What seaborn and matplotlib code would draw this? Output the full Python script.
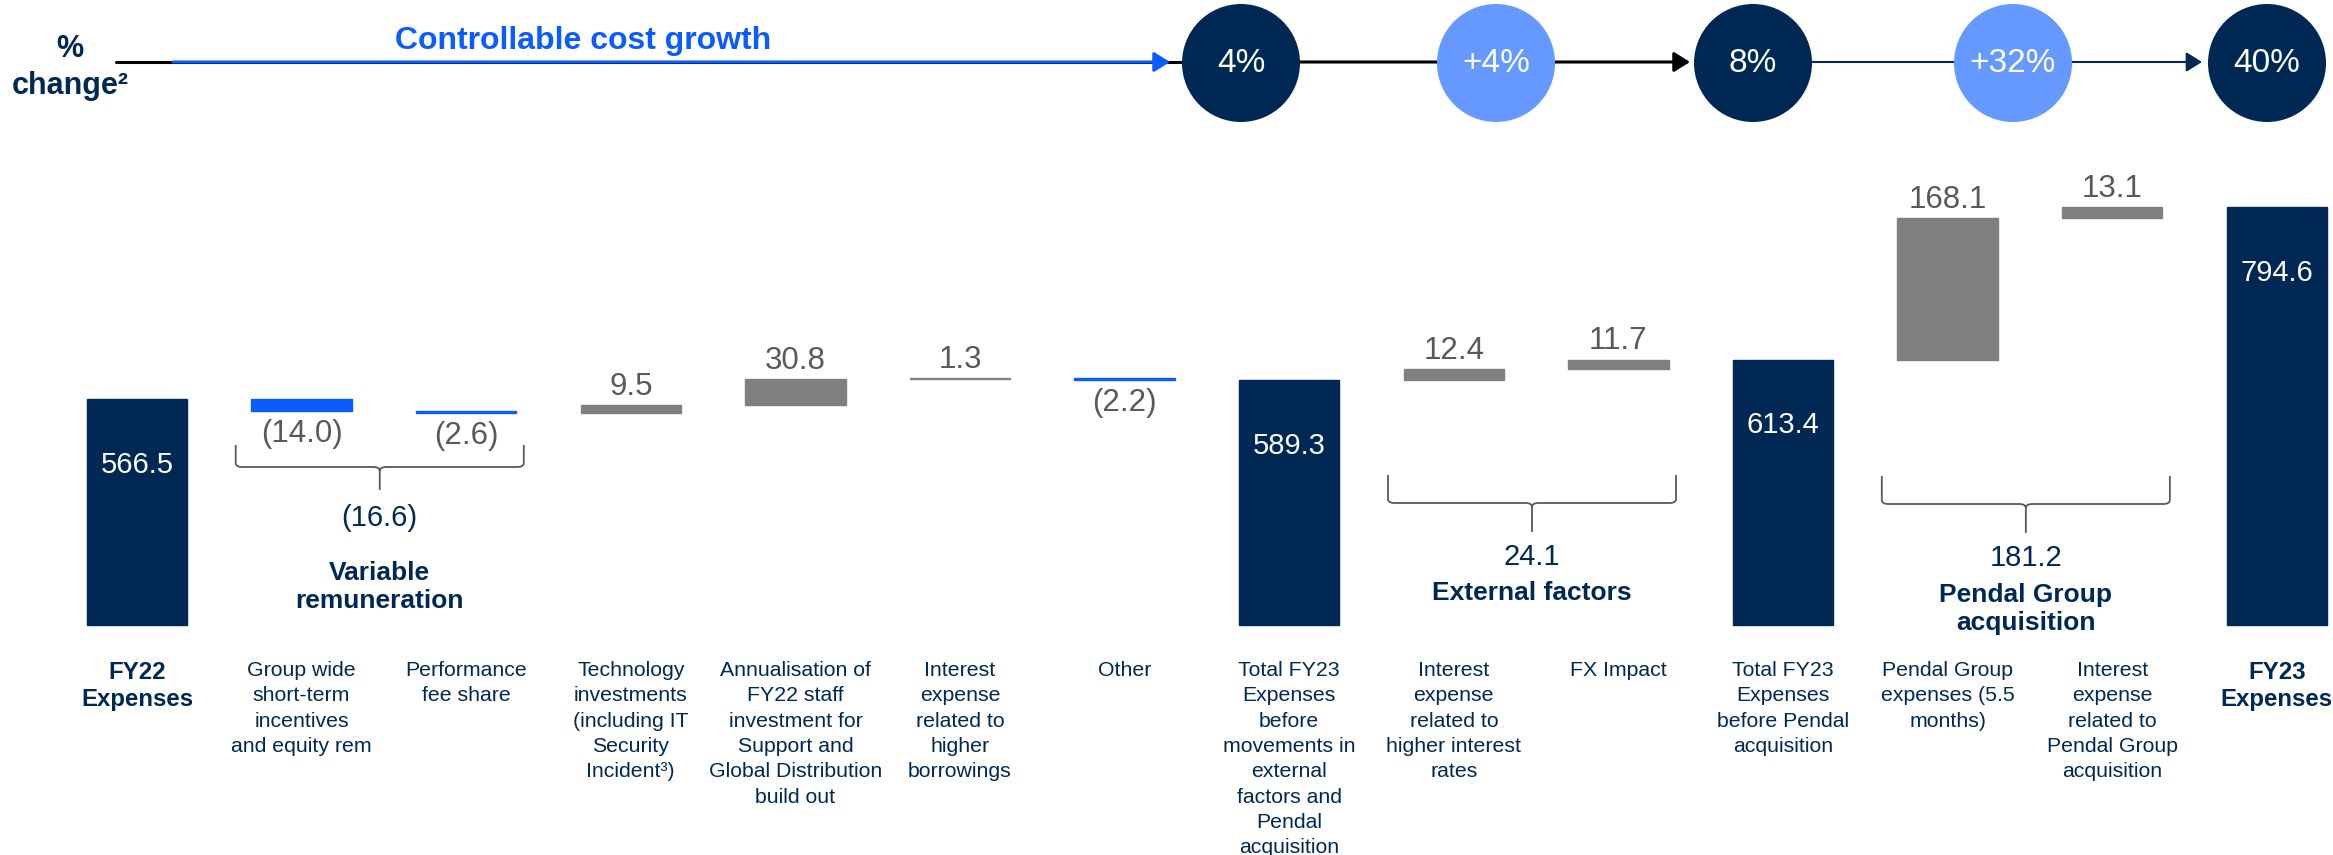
import pandas as pd
import seaborn as sns
import matplotlib.pyplot as plt
import matplotlib.transforms as mtransforms
from matplotlib.patches import Circle
from matplotlib.path import Path
from matplotlib.patches import PathPatch

# data (A$m)
steps = ['fy22', 'stip', 'perf', 'tech', 'annual', 'int_borrow', 'other',
         'total_pre_ext', 'int_rates', 'fx', 'total_pre_pendal',
         'pendal', 'int_pendal', 'fy23']
labels = ['FY22\nExpenses',
          'Group wide\nshort-term\nincentives\nand equity rem',
          'Performance\nfee share',
          'Technology\ninvestments\n(including IT\nSecurity\nIncident\u00b3)',
          'Annualisation of\nFY22 staff\ninvestment for\nSupport and\nGlobal Distribution\nbuild out',
          'Interest\nexpense\nrelated to\nhigher\nborrowings',
          'Other',
          'Total FY23\nExpenses\nbefore\nmovements in\nexternal\nfactors and\nPendal\nacquisition',
          'Interest\nexpense\nrelated to\nhigher interest\nrates',
          'FX Impact',
          'Total FY23\nExpenses\nbefore Pendal\nacquisition',
          'Pendal Group\nexpenses (5.5\nmonths)',
          'Interest\nexpense\nrelated to\nPendal Group\nacquisition',
          'FY23\nExpenses']
values = [566.5, -14.0, -2.6, 9.5, 30.8, 1.3, -2.2, 589.3, 12.4, 11.7,
          613.4, 168.1, 13.1, 794.6]
is_total = [True, False, False, False, False, False, False, True, False,
            False, True, False, False, True]
bold_label = ['fy22', 'fy23']

groups = [('Variable\nremuneration', 1, 2),
          ('External factors', 8, 9),
          ('Pendal Group\nacquisition', 11, 12)]

pct_labels = ['4%', '+4%', '8%', '+32%', '40%']
pct_is_step = [False, True, False, True, False]

NAVY = '#002855'
BLUE = '#0A5CFF'
LBLUE = '#6699FF'
GREY = '#808080'
TXTGREY = '#595959'

sns.set_theme(style='white')
plt.rcParams['font.family'] = ['Liberation Sans', 'DejaVu Sans']

# waterfall geometry
BASE = 298.0
heights, bottoms, colors = [], [], []
run = 0.0
for v, t in zip(values, is_total):
    if t:
        heights.append(v - BASE)
        bottoms.append(BASE)
        colors.append(NAVY)
        run = v
    else:
        heights.append(v)
        bottoms.append(run)
        colors.append(GREY if v > 0 else BLUE)
        run += v
df = pd.DataFrame({'step': steps, 'height': heights, 'bottom': bottoms})

fig = plt.figure(figsize=(23.33, 8.55), dpi=100)
ax = fig.add_axes([0, 0, 1, 1])
sns.barplot(data=df, x='step', y='height', order=steps, bottom=df['bottom'].values,
            color=NAVY, width=0.61, errorbar=None, ax=ax, linewidth=1)
for p, c in zip(ax.patches, colors):
    p.set_facecolor(c)
    p.set_edgecolor(c)

px_per_unit = 0.8415
ax.set_xlim(-0.832, 13.341)
ax.set_ylim(BASE - 230 / px_per_unit, BASE + 625 / px_per_unit)
ax.axis('off')

# overlay in pixel coordinates for the annotations
ov = fig.add_axes([0, 0, 1, 1], zorder=3)
ov.set_xlim(0, 2333)
ov.set_ylim(855, 0)
ov.axis('off')
ov.patch.set_alpha(0)
xpix = mtransforms.blended_transform_factory(ax.transData, ov.transData)


def fmt(v):
    return f'({abs(v):.1f})' if v < 0 else f'{v:.1f}'


# bar value labels
for i, (v, t, h, b) in enumerate(zip(values, is_total, heights, bottoms)):
    if t:
        ax.text(i, v - 78, fmt(v), color='white', fontsize=21, ha='center', va='center')
    elif v > 0:
        ax.text(i, b + h + 4, fmt(v), color=TXTGREY, fontsize=22.5, ha='center', va='bottom')
    else:
        ax.text(i, b + h - 10, fmt(v), color=TXTGREY, fontsize=22.5, ha='center', va='top')

# category labels
for i, (s, lab) in enumerate(zip(steps, labels)):
    if s in bold_label:
        ov.text(i, 661, lab, transform=xpix, ha='center', va='top', color=NAVY,
                fontsize=17.3, fontweight='bold', multialignment='center')
    else:
        ov.text(i, 661, lab, transform=xpix, ha='center', va='top', color=NAVY,
                fontsize=15.3, multialignment='center', linespacing=1.42)


# braces with group totals
def brace(x0, x1, top, mid, tip):
    xm = (x0 + x1) / 2
    r = 0.04
    verts = [(x0, top), (x0, mid - 4), (x0, mid), (x0 + r, mid),
             (xm - r, mid), (xm, mid), (xm, mid + 4), (xm, tip),
             (xm, mid + 4), (xm, mid), (xm + r, mid),
             (x1 - r, mid), (x1, mid), (x1, mid - 4), (x1, top)]
    codes = [Path.MOVETO, Path.LINETO, Path.CURVE3, Path.CURVE3,
             Path.LINETO, Path.CURVE3, Path.CURVE3, Path.LINETO,
             Path.MOVETO, Path.CURVE3, Path.CURVE3,
             Path.LINETO, Path.CURVE3, Path.CURVE3, Path.LINETO]
    ov.add_patch(PathPatch(Path(verts, codes), transform=xpix, fill=False,
                           edgecolor=TXTGREY, lw=1.3))


brace_y = [(445, 467, 490, 518, 587), (475, 503, 532, 557, 593),
           (476, 504, 533, 558, 609)]
for (name, i0, i1), (top, mid, tip, ysum, yname) in zip(groups, brace_y):
    brace(i0 - 0.4, i1 + 0.35, top, mid, tip)
    xc = (i0 - 0.4 + i1 + 0.35) / 2
    total = sum(values[i0:i1 + 1])
    ov.text(xc, ysum, fmt(total), transform=xpix, ha='center', va='center',
            color=NAVY, fontsize=21)
    ov.text(xc, yname, name, transform=xpix, ha='center', va='center',
            color=NAVY, fontsize=19, fontweight='bold', linespacing=1.2)

# top row: % change path
ov.text(70, 49, '%', ha='center', va='center', color=NAVY, fontsize=22, fontweight='bold')
ov.text(70, 86, 'change\u00b2', ha='center', va='center', color=NAVY, fontsize=22,
        fontweight='bold')
ov.text(583, 41, 'Controllable cost growth', ha='center', va='center', color=BLUE,
        fontsize=23, fontweight='bold')

cx = [1241, 1496, 1753, 2013, 2267]
cy, rad = 63, 59
ov.plot([116, cx[0] - rad], [62, 62], color='black', lw=2.2, zorder=1)
ov.annotate('', xy=(cx[0] - rad - 12, 62), xytext=(173, 62),
            arrowprops=dict(arrowstyle='-|>,head_length=0.4,head_width=0.25',
                            color=BLUE, lw=2.2, mutation_scale=24,
                            shrinkA=0, shrinkB=0), zorder=2)
ov.annotate('', xy=(cx[2] - rad - 4, 62), xytext=(cx[0], 62),
            arrowprops=dict(arrowstyle='-|>,head_length=0.4,head_width=0.25',
                            color='black', lw=2.2, mutation_scale=24,
                            shrinkA=0, shrinkB=0), zorder=1)
ov.annotate('', xy=(cx[4] - rad - 6, 62), xytext=(cx[2], 62),
            arrowprops=dict(arrowstyle='-|>,head_length=0.4,head_width=0.25',
                            color=NAVY, lw=1.5, mutation_scale=24,
                            shrinkA=0, shrinkB=0), zorder=1)
for x, lab, step in zip(cx, pct_labels, pct_is_step):
    ov.add_patch(Circle((x, cy), rad, facecolor=LBLUE if step else NAVY,
                        edgecolor='none', zorder=3))
    ov.text(x, cy + 1, lab, ha='center', va='center', color='white', fontsize=24,
            zorder=4)

fig.savefig('out.png', dpi=100)
